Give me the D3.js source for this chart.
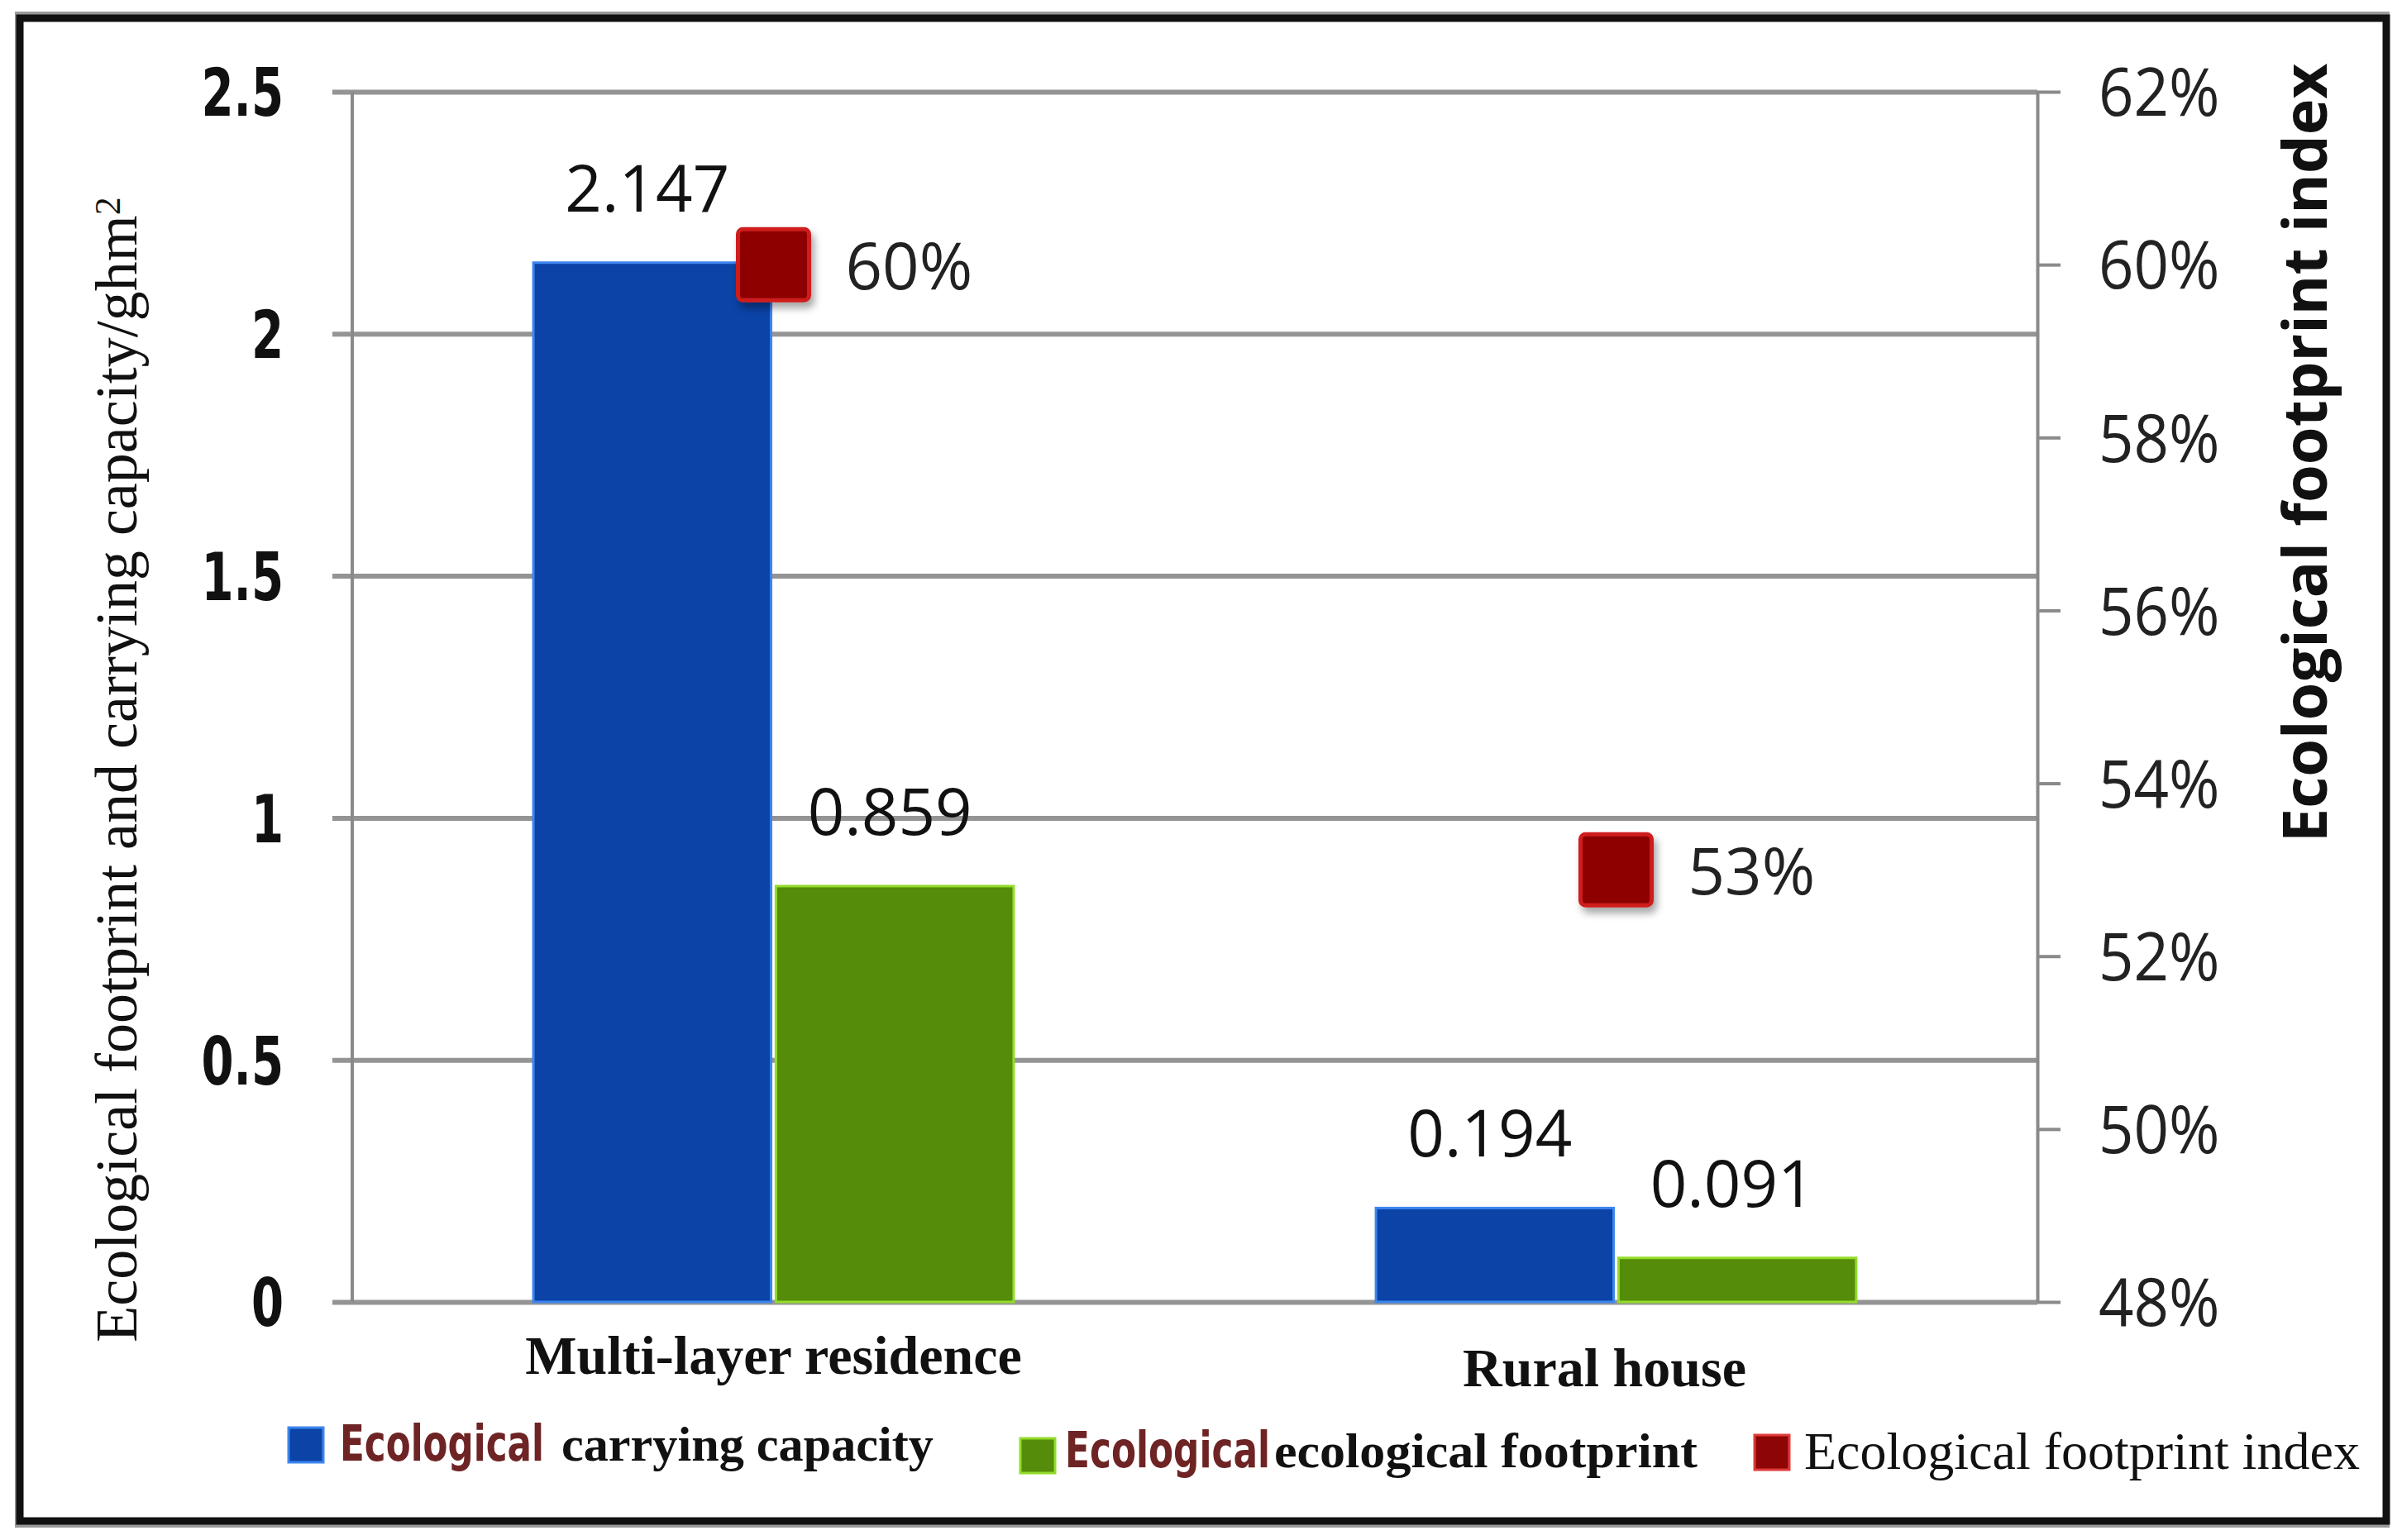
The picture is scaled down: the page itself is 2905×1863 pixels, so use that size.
<!DOCTYPE html>
<html lang="en">
<head>
    <meta charset="UTF-8">
    <title>Ecological footprint</title>
    <script src="https://d3js.org/d3.v7.min.js"></script>
    <style>
        body { margin: 0; background: #fff; }
        .grid line { stroke: #949494; stroke-width: 6; }
        .grid path { display: none; }
        .ytick text { font-family: "Liberation Sans Narrow", "DejaVu Sans Condensed", sans-serif; font-weight: bold; font-size: 80px; fill: #111; }
        .rtick text { font-family: "Open Sans", sans-serif; font-size: 80px; fill: #222; }
        .rtick line, .rtick path { stroke: #8a8a8a; stroke-width: 4; }
        .xaxis text { font-family: "Liberation Serif", serif; font-weight: bold; font-size: 66px; fill: #111; }
        .val { font-family: "Open Sans", sans-serif; font-size: 78px; fill: #111; }
        .pct { font-family: "Open Sans", sans-serif; font-size: 78px; fill: #222; }
    </style>
</head>
<body>
    <svg width="2905" height="1863"></svg>

    <script>
        const categories = ["Multi-layer residence", "Rural house"];
        const seriesNames = ["carrying", "footprint"];
        const carryingCapacity = [2.147, 0.194];
        const ecologicalFootprint = [0.859, 0.091];
        const footprintIndex = [0.60, 0.53];
        const leftTicks = [0, 0.5, 1, 1.5, 2, 2.5];
        const rightTicks = [0.48, 0.50, 0.52, 0.54, 0.56, 0.58, 0.60, 0.62];

        const svg = d3.select("svg"),
            margin = {top: 111, right: 441, bottom: 288, left: 426},
            width = +svg.attr("width") - margin.left - margin.right,
            height = +svg.attr("height") - margin.top - margin.bottom;

        const barColor = {carrying: "#0b43a6", footprint: "#558c0a"};
        const barEdge = {carrying: "#3d86ee", footprint: "#93dc2a"};

        // squeeze a text element to a share of its natural width
        function squeeze(sel, k) {
            sel.each(function() {
                const l = this.getComputedTextLength();
                d3.select(this).attr("textLength", l * k).attr("lengthAdjust", "spacingAndGlyphs");
            });
        }

        // outer frame
        svg.append("rect")
            .attr("x", 20).attr("y", 16).attr("width", 2868).attr("height", 1830)
            .attr("fill", "none").attr("stroke", "#9a9a9a").attr("stroke-width", 4);
        svg.append("rect")
            .attr("x", 24).attr("y", 22).attr("width", 2862).attr("height", 1818)
            .attr("fill", "#fff").attr("stroke", "#111").attr("stroke-width", 9);

        const defs = svg.append("defs");
        defs.append("filter").attr("id", "shadow")
            .attr("x", "-30%").attr("y", "-30%").attr("width", "170%").attr("height", "170%")
            .append("feDropShadow")
            .attr("dx", 4).attr("dy", 7).attr("stdDeviation", 5)
            .attr("flood-color", "#000").attr("flood-opacity", 0.35);

        const x0 = d3.scaleBand()
            .domain(categories)
            .range([0, width])
            .paddingInner(0.43)
            .paddingOuter(0.215);

        const x1 = d3.scaleBand()
            .domain(seriesNames)
            .range([0, x0.bandwidth()])
            .paddingInner(0.02);

        const yL = d3.scaleLinear().domain([0, 2.5]).range([height, 0]);
        const yR = d3.scaleLinear().domain([0.48, 0.62]).range([height, 0]);

        const g = svg.append("g")
            .attr("transform", `translate(${margin.left},${margin.top})`);

        // gridlines (extend a little left of the axis)
        g.append("g")
            .attr("class", "grid")
            .attr("transform", "translate(-24,0)")
            .call(d3.axisLeft(yL).tickValues(leftTicks).tickSize(-(width + 24)).tickFormat(""));

        // left tick labels
        g.append("g")
            .attr("class", "ytick")
            .call(d3.axisLeft(yL).tickValues(leftTicks).tickSize(0).tickPadding(83).tickFormat(d => d))
            .call(a => a.select(".domain").remove())
            .selectAll("text").attr("dy", "0.36em")
            .call(squeeze, 0.78);

        // left axis line
        g.append("line")
            .attr("x1", 0).attr("x2", 0).attr("y1", 0).attr("y2", height)
            .attr("stroke", "#8a8a8a").attr("stroke-width", 4);

        // right axis
        g.append("g")
            .attr("class", "rtick")
            .attr("transform", `translate(${width},0)`)
            .call(d3.axisRight(yR).tickValues(rightTicks).tickSize(28).tickSizeOuter(0).tickPadding(46).tickFormat(d3.format(".0%")))
            .selectAll("text").attr("dy", "0.36em")
            .call(squeeze, 0.93);

        // x axis labels
        g.append("g")
            .attr("class", "xaxis")
            .attr("transform", `translate(0,${height})`)
            .call(d3.axisBottom(x0).tickSize(0).tickPadding(40))
            .call(a => a.select(".domain").remove())
            .selectAll("text")
            .attr("y", (d, i) => 40 + i * 15)
            .attr("x", (d, i) => i * -14);

        const rows = categories.map((c, i) => ({
            cat: c,
            vals: [
                {key: "carrying", value: carryingCapacity[i]},
                {key: "footprint", value: ecologicalFootprint[i]}
            ]
        }));

        const groups = g.selectAll(".grp")
            .data(rows)
            .enter().append("g")
            .attr("class", "grp")
            .attr("transform", d => `translate(${x0(d.cat)},0)`);

        groups.selectAll("rect")
            .data(d => d.vals)
            .enter().append("rect")
            .attr("x", d => x1(d.key))
            .attr("y", d => yL(d.value))
            .attr("width", x1.bandwidth())
            .attr("height", d => height - yL(d.value))
            .attr("fill", d => barColor[d.key])
            .attr("stroke", d => barEdge[d.key])
            .attr("stroke-width", 3);

        groups.selectAll(".val")
            .data(d => d.vals)
            .enter().append("text")
            .attr("class", "val")
            .attr("x", d => x1(d.key) + x1.bandwidth() / 2 - 6)
            .attr("y", d => yL(d.value) - 62)
            .attr("text-anchor", "middle")
            .text(d => d.value.toFixed(3));

        // index markers on the right scale
        const markerSize = 86;
        g.selectAll(".marker")
            .data(categories)
            .enter().append("rect")
            .attr("class", "marker")
            .attr("x", d => x0(d) + x0.bandwidth() / 2 - markerSize / 2)
            .attr("y", (d, i) => yR(footprintIndex[i]) - markerSize / 2)
            .attr("width", markerSize)
            .attr("height", markerSize)
            .attr("rx", 6)
            .attr("fill", "#8e0505")
            .attr("stroke", "#cf1f1f")
            .attr("stroke-width", 5)
            .attr("filter", "url(#shadow)");

        g.selectAll(".pct")
            .data(categories)
            .enter().append("text")
            .attr("class", "pct")
            .attr("x", d => x0(d) + x0.bandwidth() / 2 + markerSize / 2 + 44)
            .attr("y", (d, i) => yR(footprintIndex[i]))
            .attr("dy", "0.38em")
            .text((d, i) => d3.format(".0%")(footprintIndex[i]));

        // axis titles
        const leftTitle = svg.append("text")
            .attr("transform", "translate(165,931) rotate(-90)")
            .attr("text-anchor", "middle")
            .style("font-family", "'Liberation Serif', serif")
            .style("font-size", "72px")
            .attr("fill", "#111")
            .text("Ecological footprint and carrying capacity/ghm");
        leftTitle.append("tspan")
            .attr("dy", "-0.45em")
            .style("font-size", "44px")
            .text("2");

        svg.append("text")
            .attr("transform", "translate(2814,548) rotate(-90)")
            .attr("text-anchor", "middle")
            .style("font-family", "'Open Sans', sans-serif")
            .style("font-weight", "bold")
            .style("font-size", "74px")
            .attr("fill", "#111")
            .text("Ecological footprint index");

        // legend
        const legend = svg.append("g");
        const legendSwatches = [
            {color: "#0b43a6", edge: "#3d86ee", x: 349, y: 1727},
            {color: "#558c0a", edge: "#93dc2a", x: 1234, y: 1740},
            {color: "#8e0505", edge: "#e03a3a", x: 2122, y: 1736}
        ];
        const legendTexts = [
            {text: "Ecological", x: 411, y: 1767, w: 247, cls: "lead"},
            {text: "carrying capacity", x: 679, y: 1767, w: 450, cls: "rest"},
            {text: "Ecological", x: 1288, y: 1775, w: 248, cls: "lead"},
            {text: "ecological footprint", x: 1541, y: 1775, w: 512, cls: "rest"},
            {text: "Ecological footprint index", x: 2182, y: 1777, w: 672, cls: "plain"}
        ];
        legend.selectAll("rect")
            .data(legendSwatches)
            .enter().append("rect")
            .attr("x", d => d.x).attr("y", d => d.y)
            .attr("width", 42).attr("height", 42)
            .attr("fill", d => d.color)
            .attr("stroke", d => d.edge).attr("stroke-width", 3);
        legend.selectAll("text")
            .data(legendTexts)
            .enter().append("text")
            .attr("x", 0).attr("y", 0)
            .style("font-family", d => d.cls === "lead" ? "'Liberation Sans Narrow', 'DejaVu Sans Condensed', sans-serif" : "'Liberation Serif', serif")
            .style("font-weight", d => d.cls === "plain" ? "normal" : "bold")
            .style("font-size", d => d.cls === "plain" ? "64px" : "60px")
            .attr("fill", d => d.cls === "lead" ? "#6e2424" : "#111")
            .text(d => d.text)
            .each(function(d) {
                // fit each legend piece to its width with a horizontal scale
                const k = d.w / this.getComputedTextLength();
                d3.select(this).attr("transform", `translate(${d.x},${d.y}) scale(${k},1)`);
            });
    </script>
</body>
</html>
